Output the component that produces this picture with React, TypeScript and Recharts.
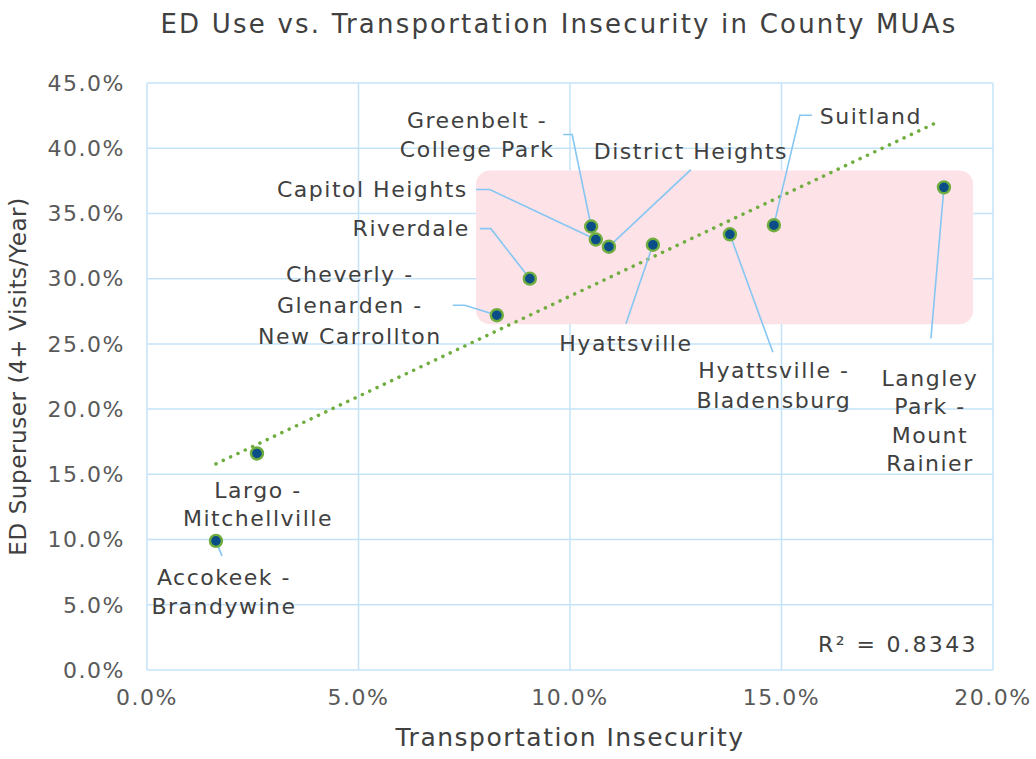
import React from 'react';
import {
  ScatterChart,
  Scatter,
  XAxis,
  YAxis,
  CartesianGrid,
  ReferenceArea,
  ReferenceLine,
} from 'recharts';

const areas = [
  'Accokeek - Brandywine',
  'Largo - Mitchellville',
  'Cheverly - Glenarden - New Carrollton',
  'Riverdale',
  'Capitol Heights',
  'Greenbelt - College Park',
  'District Heights',
  'Hyattsville',
  'Hyattsville - Bladensburg',
  'Suitland',
  'Langley Park - Mount Rainier',
];
const transportInsecurity = [1.63, 2.6, 8.27, 9.05, 10.61, 10.5, 10.92, 11.96, 13.78, 14.82, 18.84];
const edSuperuser = [9.9, 16.6, 27.2, 30.0, 33.0, 34.0, 32.45, 32.6, 33.4, 34.1, 37.0];

const xTicks = [0, 5, 10, 15, 20];
const yTicks = [0, 5, 10, 15, 20, 25, 30, 35, 40, 45];

// trendline endpoints (Excel linear fit, R² = 0.8343)
const trendX = [1.63, 18.75];
const trendY = [15.8, 42.1];

// highlighted cluster box
const boxX = [7.78, 19.53];
const boxY = [26.5, 38.3];

const data = areas.map((name, i) => ({
  name,
  x: transportInsecurity[i],
  y: edSuperuser[i],
}));

// label placement relative to each point (pixels)
type Layout = {
  lines: string[];
  dx: number;
  dy: number;
  lh: number;
  anchor: 'start' | 'middle' | 'end';
  leader: [number, number][];
};

const LAYOUT: Record<string, Layout> = {
  'Accokeek - Brandywine': { lines: ['Accokeek -', 'Brandywine'], dx: 8, dy: 37, lh: 29, anchor: 'middle', leader: [[6, 15], [0, 0]] },
  'Largo - Mitchellville': { lines: ['Largo -', 'Mitchellville'], dx: 1, dy: 37, lh: 28, anchor: 'middle', leader: [] },
  'Cheverly - Glenarden - New Carrollton': { lines: ['Cheverly -', 'Glenarden -', 'New Carrollton'], dx: -147, dy: -41, lh: 31, anchor: 'middle', leader: [[-44, -10], [-32, -10], [0, 0]] },
  Riverdale: { lines: ['Riverdale'], dx: -60, dy: -50, lh: 29, anchor: 'end', leader: [[-50, -50], [-39, -50], [0, 0]] },
  'Capitol Heights': { lines: ['Capitol Heights'], dx: -128, dy: -50, lh: 29, anchor: 'end', leader: [[-120, -50], [-106, -50], [0, 0]] },
  'Greenbelt - College Park': { lines: ['Greenbelt -', 'College Park'], dx: -114, dy: -106, lh: 29, anchor: 'middle', leader: [[-28, -92], [-19, -92], [0, 0]] },
  'District Heights': { lines: ['District Heights'], dx: 82, dy: -95, lh: 29, anchor: 'middle', leader: [[82, -77], [0, 0]] },
  Hyattsville: { lines: ['Hyattsville'], dx: -27, dy: 99, lh: 29, anchor: 'middle', leader: [[-27, 79], [0, 0]] },
  'Hyattsville - Bladensburg': { lines: ['Hyattsville -', 'Bladensburg'], dx: 44, dy: 136, lh: 30, anchor: 'middle', leader: [[43, 118], [0, 0]] },
  Suitland: { lines: ['Suitland'], dx: 97, dy: -109, lh: 29, anchor: 'middle', leader: [[38, -110], [26, -110], [0, 0]] },
  'Langley Park - Mount Rainier': { lines: ['Langley', 'Park -', 'Mount', 'Rainier'], dx: -14, dy: 191, lh: 28.5, anchor: 'middle', leader: [[-13, 151], [0, 0]] },
};

const FONT = '"DejaVu Sans", sans-serif';
const TEXT = '#404040';

const PointShape = (props: any) => {
  const { cx, cy, payload } = props;
  const lay = LAYOUT[payload.name];
  return (
    <g>
      {lay && lay.leader.length > 0 && (
        <polyline
          points={lay.leader.map(([a, b]) => `${cx + a},${cy + b}`).join(' ')}
          fill="none"
          stroke="#85c6f2"
          strokeWidth={1.6}
        />
      )}
      <circle cx={cx} cy={cy} r={6} fill="#0b4d86" stroke="#6fad3f" strokeWidth={2.4} />
      {lay &&
        lay.lines.map((t, i) => (
          <text
            key={i}
            x={cx + lay.dx}
            y={cy + lay.dy + i * lay.lh}
            textAnchor={lay.anchor}
            dominantBaseline="central"
            fontFamily={FONT}
            fontSize={22}
            fill={TEXT}
            style={{ letterSpacing: 1.5 }}
          >
            {t}
          </text>
        ))}
    </g>
  );
};

const RoundBox = (props: any) => {
  const { x, y, width, height } = props;
  return <rect x={x} y={y} width={width} height={height} rx={14} ry={14} fill="#fde2e8" />;
};

export default function App() {
  return (
    <div style={{ position: 'absolute', left: 0, top: 0, width: 1036, height: 759, background: '#fff' }}>
      <div
        style={{
          position: 'absolute',
          left: 0,
          top: 8,
          width: 1118,
          textAlign: 'center',
          fontFamily: FONT,
          fontSize: 26,
          lineHeight: '32px',
          letterSpacing: 2.2,
          color: TEXT,
        }}
      >
        ED Use vs. Transportation Insecurity in County MUAs
      </div>
      <ScatterChart width={1036} height={759} margin={{ top: 83, right: 43, bottom: 29, left: 5 }}>
        <CartesianGrid stroke="#c5e3f8" strokeWidth={1.5} />
        <ReferenceArea
          x1={boxX[0]}
          x2={boxX[1]}
          y1={boxY[0]}
          y2={boxY[1]}
          shape={RoundBox}
        />
        <XAxis
          type="number"
          dataKey="x"
          domain={[0, 20]}
          ticks={xTicks}
          tickFormatter={(v: number) => v.toFixed(1) + '%'}
          axisLine={false}
          tickLine={false}
          tickMargin={13}
          height={60}
          tick={{ fill: '#595959', fontSize: 22, fontFamily: FONT, style: { letterSpacing: 1.5 } }}
          label={{
            value: 'Transportation Insecurity',
            position: 'bottom',
            offset: -2,
            style: { fill: TEXT, fontSize: 25, fontFamily: FONT, letterSpacing: 1.5 },
          }}
        />
        <YAxis
          type="number"
          dataKey="y"
          domain={[0, 45]}
          ticks={yTicks}
          tickFormatter={(v: number) => v.toFixed(1) + '%'}
          axisLine={false}
          tickLine={false}
          tickMargin={16}
          width={142}
          tick={{ fill: '#595959', fontSize: 22, fontFamily: FONT, style: { letterSpacing: 1.5 } }}
          label={{
            value: 'ED Superuser (4+ Visits/Year)',
            angle: -90,
            position: 'insideLeft',
            offset: 13,
            style: { fill: TEXT, fontSize: 23, fontFamily: FONT, textAnchor: 'middle', letterSpacing: 0.6 },
          }}
        />
        <ReferenceLine
          segment={[
            { x: trendX[0], y: trendY[0] },
            { x: trendX[1], y: trendY[1] },
          ]}
          stroke="#6fad3f"
          strokeWidth={3.5}
          strokeDasharray="0.1 8"
          strokeLinecap="round"
        />
        <Scatter data={data} shape={PointShape} isAnimationActive={false} />
      </ScatterChart>
      <div
        style={{
          position: 'absolute',
          right: 58,
          top: 630,
          fontFamily: FONT,
          fontSize: 22,
          lineHeight: '30px',
          letterSpacing: 2.4,
          color: TEXT,
        }}
      >
        R² = 0.8343
      </div>
    </div>
  );
}
